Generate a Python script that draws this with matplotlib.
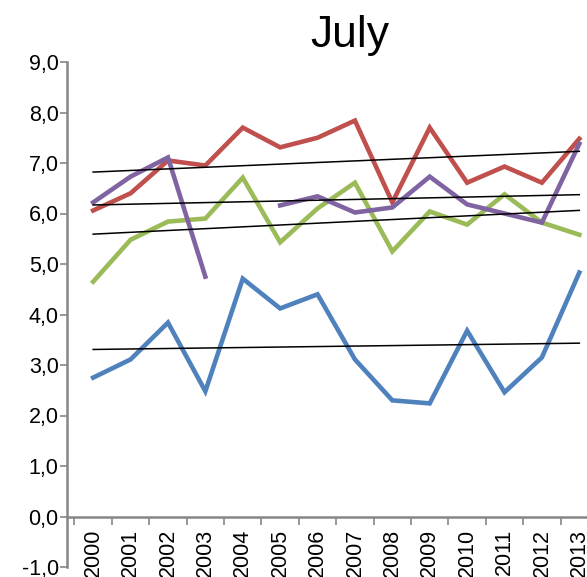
import numpy as np
import matplotlib
matplotlib.use("Agg")
import matplotlib.pyplot as plt
from matplotlib.ticker import FuncFormatter

plt.rcParams['font.family'] = ['Liberation Sans', 'DejaVu Sans']

years = [2000, 2001, 2002, 2003, 2004, 2005, 2006,
         2007, 2008, 2009, 2010, 2011, 2012, 2013]

red = [6.06, 6.40, 7.05, 6.95, 7.70, 7.31, 7.50,
       7.84, 6.22, 7.70, 6.61, 6.93, 6.61, 7.48]
green = [4.65, 5.48, 5.84, 5.90, 6.71, 5.43, 6.10,
         6.61, 5.25, 6.04, 5.78, 6.38, 5.82, 5.58]
purple = [6.22, 6.73, 7.11, 4.75, np.nan, 6.16, 6.34,
          6.02, 6.12, 6.73, 6.18, 6.00, 5.82, 7.38]
blue = [2.75, 3.11, 3.84, 2.48, 4.71, 4.12, 4.40,
        3.11, 2.30, 2.24, 3.68, 2.46, 3.15, 4.83]

series = [
    (red, '#C0504D'),
    (green, '#9BBB59'),
    (purple, '#8064A2'),
    (blue, '#4F81BD'),
]

W, H = 587, 577
fig = plt.figure(figsize=(W / 100, H / 100), dpi=100)

# x: 37.4 px per year, first year at 93 px; y: -1 at 567 px, 9 at 62 px
ax = fig.add_axes([67 / W, (H - 567) / H, 531 / W, (567 - 62) / H])
ax.set_xlim(-0.7, 13.5)
ax.set_ylim(-1, 9)

x = np.arange(len(years))
for vals, col in series:
    y = np.array(vals, dtype=float)
    ax.plot(x, y, color=col, lw=3.3, solid_joinstyle='miter', zorder=2)

# linear trend lines
for vals, col in series:
    y = np.array(vals, dtype=float)
    ok = ~np.isnan(y)
    k, b = np.polyfit(x[ok], y[ok], 1)
    ax.plot(x, k * x + b, color='black', lw=1.1, zorder=3)

grey = '#868686'
for s in ('top', 'right'):
    ax.spines[s].set_visible(False)
ax.spines['left'].set_color(grey)
ax.spines['left'].set_linewidth(1.8)
ax.spines['bottom'].set_position(('data', 0))
ax.spines['bottom'].set_color(grey)
ax.spines['bottom'].set_linewidth(1.8)

ax.set_yticks(np.arange(-1, 10, 1))
ax.yaxis.set_major_formatter(FuncFormatter(lambda v, p: f"{v:.1f}".replace('.', ',')))
ax.tick_params(axis='y', direction='out', length=5, width=1.2, color=grey,
               labelsize=15.5, pad=1)

# year labels at centres, tick marks between categories
ax.set_xticks(x)
ax.set_xticklabels([str(v) for v in years], rotation=90)
ax.set_xticks(np.arange(-0.5, 14, 1), minor=True)
ax.tick_params(axis='x', which='major', length=0, labelsize=15.5, pad=9)
ax.tick_params(axis='x', which='minor', direction='out', length=6, width=1.2, color=grey)

fig.text(350 / W, 1 - 35 / H, 'July', ha='center', va='center', fontsize=32)

fig.savefig('out.png', dpi=100)
